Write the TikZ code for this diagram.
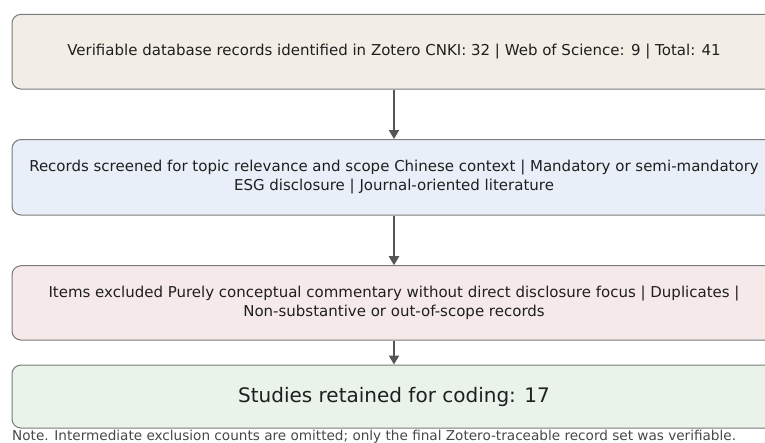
\documentclass[tikz,border=0pt]{standalone}
\usepackage{fontspec}
\setmainfont{DejaVu Sans}
\usetikzlibrary{arrows.meta}

\definecolor{edgegray}{HTML}{7A7A7A}
\definecolor{arrowgray}{HTML}{555555}
\definecolor{fillbeige}{HTML}{F2EEE5}
\definecolor{fillblue}{HTML}{E8EFF8}
\definecolor{fillrose}{HTML}{F5EAE9}
\definecolor{fillgreen}{HTML}{E9F3EA}

\tikzset{
  stagebox/.style={draw=edgegray, line width=1pt, rounded corners=9pt,
    minimum width=764pt, inner sep=0pt, align=center, text=black!88,
    font=\fontsize{15}{19}\selectfont},
  flowarrow/.style={draw=arrowgray, line width=2pt,
    -{Triangle[length=9pt,width=10pt]}}
}

\begin{document}
\begin{tikzpicture}[x=1pt, y=-1pt]
      \useasboundingbox (0,0) rectangle (765,443);

      \node[stagebox, fill=fillbeige, minimum height=74.7pt] (rec) at (394,51.7)
        {Verifiable database records identified in Zotero CNKI: 32 | Web of Science: 9 | Total: 41};
      \node[stagebox, fill=fillblue, minimum height=75.5pt] (scr) at (394,177.3)
        {Records screened for topic relevance and scope Chinese context | Mandatory or semi-mandatory\\
         ESG disclosure | Journal-oriented literature};
      \node[stagebox, fill=fillrose, minimum height=74.3pt] (exc) at (394,302.9)
        {Items excluded Purely conceptual commentary without direct disclosure focus | Duplicates |\\
         Non-substantive or out-of-scope records};
      \node[stagebox, fill=fillgreen, minimum height=63pt,
        font=\fontsize{20}{24}\selectfont] (ret) at (394,396.5)
        {Studies retained for coding: 17};

      \node[anchor=west, inner sep=0pt, text=black!72,
        font=\fontsize{13.6}{16}\selectfont] (note) at (12,436.3)
        {Note. Intermediate exclusion counts are omitted; only the final Zotero-traceable record set was verifiable.};

      \draw[flowarrow] (rec) -- (scr);
      \draw[flowarrow] (scr) -- (exc);
      \draw[flowarrow] (exc) -- (ret);

    \end{tikzpicture}
\end{document}
